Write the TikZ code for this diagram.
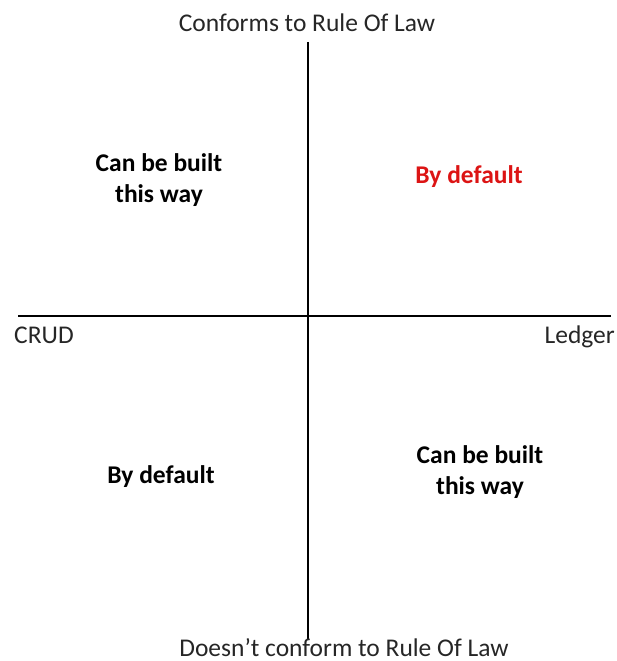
\documentclass[tikz,border=0pt]{standalone}
\usepackage{fontspec}
\setmainfont{Carlito}
\begin{document}
\begin{tikzpicture}[x=1pt,y=-1pt,
  axislabel/.style={font=\fontsize{25.5}{30}\selectfont, inner sep=0pt, anchor=base, text=black!85},
  quad/.style={font=\fontsize{25.5}{31}\selectfont\bfseries, inner sep=0pt, align=center, text=black},
  axis/.style={line width=1.3pt, black}]
\useasboundingbox (0,0) rectangle (616,661);
\coordinate (vt) at (308,42);
\coordinate (vb) at (308,639);
\coordinate (hl) at (18,316);
\coordinate (hr) at (611,316);
\draw[axis] (vt) -- (vb);
\draw[axis] (hl) -- (hr);
\node[axislabel] (top) at (307,32) {Conforms to Rule Of Law};
\node[axislabel] (bot) at (344,656) {Doesn’t conform to Rule Of Law};
\node[axislabel, anchor=base west] (crud) at (14,343) {CRUD};
\node[axislabel, anchor=base east] (ledger) at (615,343) {Ledger};
\node[quad] (tl) at (159,180) {Can be built\\this way};
\node[quad, anchor=base, text={rgb,255:red,220;green,20;blue,20}] (tr) at (469,183) {By default};
\node[quad, anchor=base] (bl) at (161,483) {By default};
\node[quad] (br) at (480,472) {Can be built\\this way};
\end{tikzpicture}
\end{document}
